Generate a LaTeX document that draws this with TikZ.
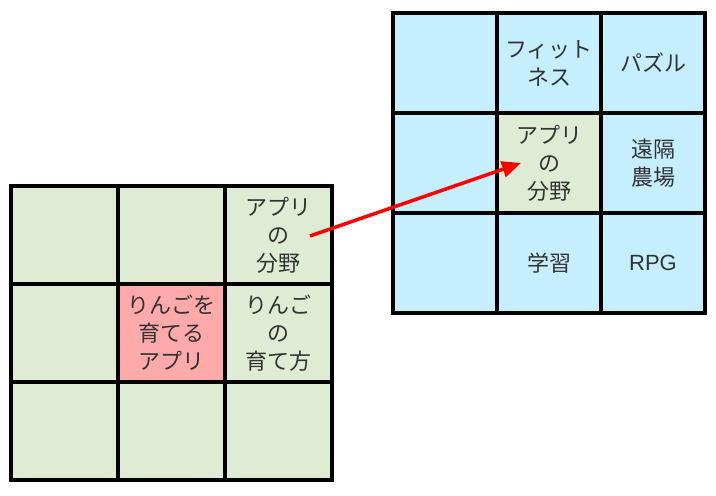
\documentclass[tikz,border=0pt]{standalone}
\usepackage{fontspec}
\usepackage{xcolor}
\usepackage{tikz}
\usetikzlibrary{arrows.meta}
\newfontfamily\jp{Noto Sans CJK JP}
\newfontfamily\latin{Liberation Sans}
\definecolor{leafgreen}{RGB}{221,236,211}
\definecolor{applepink}{RGB}{255,170,170}
\definecolor{skyblue}{RGB}{197,238,255}

\begin{document}
\begin{tikzpicture}[x=1pt, y=-1pt,
  cell/.style={draw=black, line width=4pt, rectangle, inner sep=0pt, outer sep=0pt,
    align=center, text=black!80, font=\jp\fontsize{22}{28}\selectfont},
  area/.style={cell, fill=leafgreen, minimum width=107pt, minimum height=98pt},
  theme/.style={area, fill=applepink},
  idea/.style={cell, fill=skyblue, minimum width=104pt, minimum height=100pt},
  link/.style={draw=red, line width=3.5pt, -{Triangle[length=19pt, width=16pt]}}
]
\useasboundingbox (0,0) rectangle (716,496);

% left grid
\node[area] (a11) at (64.5,235) {};
\node[area] (a12) at (171.5,235) {};
\node[area] (a13) at (278.5,235) {アプリ\\の\\分野};
\node[area] (a21) at (64.5,333) {};
\node[theme] (a22) at (171.5,333) {りんごを\\育てる\\アプリ};
\node[area] (a23) at (278.5,333) {りんご\\の\\育て方};
\node[area] (a31) at (64.5,431) {};
\node[area] (a32) at (171.5,431) {};
\node[area] (a33) at (278.5,431) {};

% right grid
\node[idea] (b11) at (445,63) {};
\node[idea] (b12) at (549,63) {フィット\\ネス};
\node[idea] (b13) at (653,63) {パズル};
\node[idea] (b21) at (445,163) {};
\node[area, minimum width=104pt, minimum height=100pt] (b22) at (549,163) {アプリ\\の\\分野};
\node[idea] (b23) at (653,163) {遠隔\\農場};
\node[idea] (b31) at (445,263) {};
\node[idea] (b32) at (549,263) {学習};
\node[idea, font=\latin\fontsize{22}{28}\selectfont] (b33) at (653,263) {RPG};

% arrow
\coordinate (from) at (310,236);
\coordinate (to) at (521,163);
\draw[link] (from) -- (to);
\end{tikzpicture}
\end{document}
